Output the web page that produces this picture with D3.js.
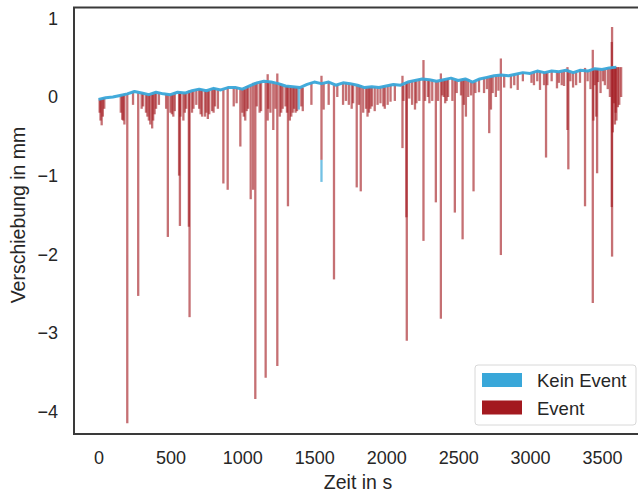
<!DOCTYPE html>
<html>
<head>
<meta charset="utf-8">
<script src="https://cdn.jsdelivr.net/npm/d3@7"></script>
<style>
  body { margin: 0; background: #fff; }
  text { font-family: "Liberation Sans", Arial, sans-serif; fill: #262626; }
</style>
</head>
<body>
<div id="svgContainer"></div>
<script>
// baseline series (Kein Event)
var baseTime = [0, 50, 100, 150, 200, 250, 300, 350, 400, 450, 500, 550, 600, 650, 700, 750, 800, 850, 900, 950,
    1000, 1050, 1100, 1150, 1200, 1250, 1300, 1350, 1400, 1450, 1500, 1550, 1600, 1650, 1700, 1750, 1800, 1850, 1900, 1950,
    2000, 2050, 2100, 2150, 2200, 2250, 2300, 2350, 2400, 2450, 2500, 2550, 2600, 2650, 2700, 2750, 2800, 2850, 2900, 2950,
    3000, 3050, 3100, 3150, 3200, 3250, 3300, 3350, 3400, 3450, 3500, 3550, 3600];
var baseValue = [-0.03, -0.01, 0.00, 0.02, 0.04, 0.07, 0.05, 0.03, 0.06, 0.04, 0.03, 0.06, 0.05, 0.08, 0.10, 0.08, 0.11, 0.09, 0.12, 0.12,
    0.10, 0.14, 0.18, 0.20, 0.19, 0.17, 0.14, 0.13, 0.12, 0.16, 0.19, 0.17, 0.19, 0.15, 0.18, 0.17, 0.15, 0.12, 0.13, 0.12,
    0.14, 0.16, 0.15, 0.19, 0.21, 0.23, 0.22, 0.20, 0.22, 0.24, 0.21, 0.23, 0.19, 0.23, 0.25, 0.27, 0.28, 0.27, 0.29, 0.31,
    0.30, 0.33, 0.31, 0.33, 0.32, 0.34, 0.31, 0.34, 0.33, 0.36, 0.35, 0.37, 0.38];

// short excursions of the baseline itself
var blueDipTime = [1392, 1550];
var blueDipHigh = [0.12, -0.80];
var blueDipLow = [-0.16, -1.08];

// large events: time, lowest value, highest value (null = starts at baseline)
var eventTime = [200, 276, 482, 560, 566, 628, 633, 868, 898, 986, 1058, 1075, 1090, 1162, 1176, 1215, 1243, 1317,
    1550, 1637, 1795, 1823, 2113, 2140, 2143, 2259, 2345, 2380, 2477, 2531, 2607, 2716, 2797, 3111, 3260, 3266,
    3382, 3436, 3466, 3568, 3570, 3610];
var eventLow = [-4.15, -2.53, -1.78, -1.00, -1.64, -1.65, -2.80, -1.10, -1.18, -0.63, -1.30, -1.18, -3.84, -3.57, -0.30, -0.42, -3.42, -1.39,
    -0.80, -2.32, -1.15, -1.20, -0.65, -1.53, -3.10, -1.83, -1.34, -2.82, -1.47, -1.81, -1.20, -0.46, -2.01, -0.77, -0.42, -0.92,
    -1.39, -2.62, -0.97, -1.40, -2.03, -0.13];
var eventHigh = [null, null, null, null, null, null, null, null, null, null, null, null, null, null, 0.29, null, 0.30, null,
    0.27, null, null, null, 0.27, null, null, 0.47, null, 0.30, null, null, null, null, 0.49, null, 0.38, null,
    0.37, 0.60, null, 0.70, 0.89, null];

// small events just below the baseline: time, lowest value
var dipTime = [8, 14, 22, 30, 40, 155, 165, 172, 180, 240, 300, 310, 330, 340, 350, 360, 373, 380, 390, 400,
    420, 470, 500, 510, 520, 530, 570, 590, 600, 610, 650, 660, 680, 700, 710, 720, 740, 750, 760, 770, 790, 800, 810, 830,
    940, 960, 1000, 1010, 1020, 1030, 1040, 1100, 1120, 1130, 1180, 1195, 1230, 1260, 1270, 1280, 1300, 1310, 1330, 1340,
    1350, 1360, 1370, 1380, 1410, 1420, 1480, 1565, 1600, 1660, 1700, 1720, 1740, 1760, 1770, 1810, 1840, 1860, 1870, 1880,
    1890, 1900, 1920, 1940, 1960, 1980, 1990, 2010, 2030, 2060, 2120, 2160, 2180, 2200, 2210, 2230, 2270, 2290, 2300, 2320,
    2360, 2390, 2400, 2410, 2420, 2430, 2460, 2490, 2520, 2540, 2554, 2570, 2590, 2620, 2645, 2680, 2700, 2728, 2740, 2762,
    2780, 2820, 2867, 2890, 2914, 2950, 3010, 3027, 3050, 3069, 3097, 3120, 3150, 3187, 3200, 3220, 3236, 3280, 3299, 3320,
    3347, 3400, 3420, 3440, 3450, 3460, 3473, 3490, 3507, 3520, 3540, 3555, 3575, 3584, 3590, 3595, 3600, 3620, 3633];
var dipLow = [-0.20, -0.30, -0.36, -0.25, -0.15, -0.20, -0.29, -0.30, -0.35, -0.10, -0.15, -0.12, -0.20, -0.25, -0.30, -0.35, -0.40, -0.30, -0.22, -0.15,
    -0.10, -0.15, -0.20, -0.22, -0.25, -0.18, -0.25, -0.30, -0.20, -0.15, -0.20, -0.15, -0.10, -0.15, -0.22, -0.25, -0.25, -0.20, -0.28, -0.22, -0.18, -0.20, -0.12, -0.15,
    -0.12, -0.08, -0.20, -0.25, -0.30, -0.18, -0.15, -0.12, -0.20, -0.18, -0.15, -0.20, -0.15, -0.25, -0.20, -0.15, -0.12, -0.20, -0.30, -0.25,
    -0.20, -0.15, -0.20, -0.18, -0.12, -0.18, -0.10, -0.16, -0.10, 0.00, -0.10, -0.05, -0.10, -0.15, -0.08, -0.10, -0.20, -0.15, -0.25, -0.20,
    -0.15, -0.12, -0.18, -0.10, -0.08, -0.12, -0.15, -0.10, -0.06, -0.05, -0.05, -0.02, -0.10, -0.16, -0.08, -0.05, -0.05, 0.00, -0.08, -0.05,
    -0.05, 0.02, 0.00, -0.08, -0.05, 0.00, -0.05, 0.05, 0.02, -0.10, -0.25, 0.00, 0.02, 0.05, 0.06, 0.05, 0.10, -0.16, 0.05, 0.00,
    0.08, 0.12, 0.11, 0.15, 0.09, 0.20, 0.18, 0.15, 0.20, 0.09, 0.15, 0.15, 0.20, 0.11, 0.18, 0.15, 0.14, 0.20, 0.12, 0.15,
    0.18, 0.20, 0.10, -0.30, 0.15, -0.25, 0.19, 0.05, 0.20, 0.15, 0.10, 0.00, -0.45, -0.08, -0.35, -0.20, -0.30, -0.10, 0.00];

var xTicks = [0, 500, 1000, 1500, 2000, 2500, 3000, 3500];
var yTicks = [-4, -3, -2, -1, 0, 1];
var seriesNames = ["Kein Event", "Event"];
var seriesColors = ["#39a7d9", "#a3191f"];

var width = 638,
    height = 493;
var plot = { left: 74, top: 7.5, right: 643, bottom: 434 };

var x = d3.scaleLinear().domain([0, 3500]).range([98.5, 602]);
var y = d3.scaleLinear().domain([0, -4]).range([97, 411.5]);

var svg = d3.select("#svgContainer")
    .append("svg")
    .attr("width", width)
    .attr("height", height);

svg.append("defs").append("clipPath")
    .attr("id", "clip")
    .append("rect")
    .attr("x", plot.left)
    .attr("y", plot.top)
    .attr("width", plot.right - plot.left)
    .attr("height", plot.bottom - plot.top);

var g = svg.append("g").attr("clip-path", "url(#clip)");

// baseline value at a given time (nearest sample)
var bisect = d3.bisector(function (d) { return d; }).left;
function baseAt(t) {
    var i = Math.min(bisect(baseTime, t), baseTime.length - 1);
    if (i > 0 && Math.abs(baseTime[i - 1] - t) < Math.abs(baseTime[i] - t)) i = i - 1;
    return baseValue[i];
}

var events = eventTime.map(function (t, i) {
    var b = baseAt(t);
    var hi = eventHigh[i] == null ? b : Math.max(b, eventHigh[i]);
    return { t: t, lo: eventLow[i], hi: hi };
});
dipTime.forEach(function (t, i) {
    var b = baseAt(t);
    events.push({ t: t, lo: Math.min(dipLow[i], b - 0.06), hi: b });
});

// red event lines
g.append("g")
    .attr("class", "events")
    .selectAll("line")
    .data(events)
    .enter().append("line")
    .attr("x1", function (d) { return x(d.t); })
    .attr("x2", function (d) { return x(d.t); })
    .attr("y1", function (d) { return y(d.hi); })
    .attr("y2", function (d) { return y(d.lo); })
    .style("stroke", seriesColors[1])
    .style("stroke-width", 2.3)
    .style("opacity", 0.62);

// blue baseline
var line = d3.line()
    .x(function (d, i) { return x(baseTime[i]); })
    .y(function (d) { return y(d); });

g.append("path")
    .datum(baseValue)
    .attr("d", line)
    .style("fill", "none")
    .style("stroke", seriesColors[0])
    .style("stroke-width", 3)
    .style("stroke-linejoin", "round")
    .style("opacity", 0.95);

g.append("g")
    .selectAll("line")
    .data(blueDipTime)
    .enter().append("line")
    .attr("x1", function (d) { return x(d); })
    .attr("x2", function (d) { return x(d); })
    .attr("y1", function (d, i) { return y(blueDipHigh[i]); })
    .attr("y2", function (d, i) { return y(blueDipLow[i]); })
    .style("stroke", seriesColors[0])
    .style("stroke-width", 2.3)
    .style("opacity", 0.7);

// frame
svg.append("rect")
    .attr("x", plot.left)
    .attr("y", plot.top)
    .attr("width", plot.right - plot.left)
    .attr("height", plot.bottom - plot.top)
    .style("fill", "none")
    .style("stroke", "#3a3a3a")
    .style("stroke-width", 2);

// axes
var xAxis = svg.append("g")
    .attr("transform", "translate(0," + plot.bottom + ")")
    .call(d3.axisBottom(x).tickValues(xTicks).tickSize(0).tickPadding(17).tickFormat(d3.format("d")));
var yAxis = svg.append("g")
    .attr("transform", "translate(" + plot.left + ",0)")
    .call(d3.axisLeft(y).tickValues(yTicks).tickSize(0).tickPadding(16).tickFormat(d3.format("d")));
[xAxis, yAxis].forEach(function (a) {
    a.select(".domain").remove();
    a.selectAll("text").style("font-size", "18px").style("font-family", null).style("fill", "#262626");
});

svg.append("text")
    .attr("x", 358)
    .attr("y", 489)
    .attr("text-anchor", "middle")
    .style("font-size", "19.5px")
    .text("Zeit in s");

svg.append("text")
    .attr("transform", "translate(25,215) rotate(-90)")
    .attr("text-anchor", "middle")
    .style("font-size", "19.5px")
    .text("Verschiebung in mm");

// legend
var legend = svg.append("g").attr("class", "legend");
legend.append("rect")
    .attr("x", 475)
    .attr("y", 365)
    .attr("width", 161)
    .attr("height", 60)
    .attr("rx", 3)
    .style("fill", "#fff")
    .style("stroke", "#d8d8d8");

var items = legend.selectAll("g.item")
    .data(seriesNames)
    .enter().append("g")
    .attr("class", "item")
    .attr("transform", function (d, i) { return "translate(482," + (373 + i * 27.5) + ")"; });
items.append("rect")
    .attr("width", 40)
    .attr("height", 14)
    .style("fill", function (d, i) { return seriesColors[i]; });
items.append("text")
    .attr("x", 55)
    .attr("y", 14)
    .style("font-size", "18.5px")
    .text(function (d) { return d; });
</script>
</body>
</html>
